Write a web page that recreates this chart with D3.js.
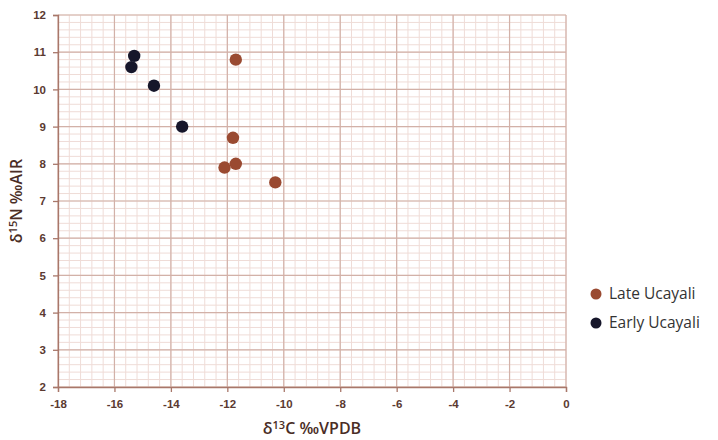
<!DOCTYPE html>
<html>
<head>
<meta charset="utf-8">
<script src="https://cdn.jsdelivr.net/npm/d3@7"></script>
<style>
  body { margin: 0; background: #fff; }
  svg { font-family: "Open Sans", "Liberation Sans", sans-serif; }
</style>
</head>
<body>
<svg id="chart" width="718" height="440"></svg>
<script>
(function () {

    // data
    const lateX = [-11.7, -11.8, -11.7, -12.1, -10.3];
    const lateY = [10.8, 8.7, 8.0, 7.9, 7.5];
    const earlyX = [-15.3, -15.4, -14.6, -13.6];
    const earlyY = [10.9, 10.6, 10.1, 9.0];
    const seriesNames = ["Late Ucayali", "Early Ucayali"];
    const seriesColors = ["#9a4a31", "#16162a"];
    const xTicks = [-18, -16, -14, -12, -10, -8, -6, -4, -2, 0];
    const yTicks = [2, 3, 4, 5, 6, 7, 8, 9, 10, 11, 12];

    const svg = d3.select('#chart');

    const x = d3.scaleLinear().domain([-18, 0]).range([58, 566]);
    const y = d3.scaleLinear().domain([2, 12]).range([387, 15]);

    const grid = svg.append('g');

    // minor grid
    grid.selectAll('line.mx')
        .data(d3.range(-18, 0.001, 0.4))
        .enter().append('line')
        .attr('x1', d => x(d)).attr('x2', d => x(d))
        .attr('y1', y(2)).attr('y2', y(12))
        .attr('stroke', '#efdcd7').attr('stroke-width', 1);
    grid.selectAll('line.my')
        .data(d3.range(2, 12.001, 0.2))
        .enter().append('line')
        .attr('x1', x(-18)).attr('x2', x(0))
        .attr('y1', d => y(d)).attr('y2', d => y(d))
        .attr('stroke', '#efdcd7').attr('stroke-width', 1);

    // major grid
    grid.selectAll('line.Mx')
        .data(xTicks)
        .enter().append('line')
        .attr('x1', d => x(d)).attr('x2', d => x(d))
        .attr('y1', y(2)).attr('y2', y(12))
        .attr('stroke', '#d2b1a8').attr('stroke-width', 1.2);
    grid.selectAll('line.My')
        .data(yTicks)
        .enter().append('line')
        .attr('x1', x(-18)).attr('x2', x(0))
        .attr('y1', d => y(d)).attr('y2', d => y(d))
        .attr('stroke', '#d2b1a8').attr('stroke-width', 1.2);

    const xAxis = svg.append('g')
        .attr('transform', `translate(0,${y(2)})`)
        .call(d3.axisBottom(x).tickValues(xTicks).tickSize(5).tickPadding(8)
            .tickFormat(d => String(d)));
    const yAxis = svg.append('g')
        .attr('transform', `translate(${x(-18)},0)`)
        .call(d3.axisLeft(y).tickValues(yTicks).tickSize(5).tickPadding(7));

    [xAxis, yAxis].forEach(a => {
        a.selectAll('path, line').attr('stroke', '#a8776a').attr('stroke-width', 1.3);
        a.selectAll('text')
            .attr('fill', '#5b3a31')
            .style('font-size', '11.5px')
            .style('font-weight', 'bold');
    });

    const series = [
        { xs: lateX, ys: lateY },
        { xs: earlyX, ys: earlyY }
    ];

    series.forEach((s, i) => {
        svg.append('g').selectAll('circle')
            .data(s.xs.map((v, j) => [v, s.ys[j]]))
            .enter().append('circle')
            .attr('cx', d => x(d[0]))
            .attr('cy', d => y(d[1]))
            .attr('r', 6.2)
            .attr('fill', seriesColors[i]);
    });

    // legend
    const legend = svg.append('g').attr('transform', 'translate(596,294)');
    seriesNames.forEach((name, i) => {
        legend.append('circle')
            .attr('cx', 0).attr('cy', i * 29)
            .attr('r', 5.5)
            .attr('fill', seriesColors[i]);
        legend.append('text')
            .attr('x', 13).attr('y', i * 29 + 5)
            .attr('fill', '#333')
            .style('font-size', '15.5px')
            .text(name);
    });

    // axis titles
    const xt = svg.append('text')
        .attr('x', 312).attr('y', 434)
        .attr('text-anchor', 'middle')
        .attr('fill', '#4a2d25')
        .style('font-size', '16px')
        .style('font-weight', '600');
    xt.append('tspan').text('δ');
    xt.append('tspan').attr('dy', -5).style('font-size', '11px').text('13');
    xt.append('tspan').attr('dy', 5).text('C ‰VPDB');

    const yt = svg.append('text')
        .attr('transform', 'translate(22,201) rotate(-90)')
        .attr('text-anchor', 'middle')
        .attr('fill', '#4a2d25')
        .style('font-size', '16px')
        .style('font-weight', '600');
    yt.append('tspan').text('δ');
    yt.append('tspan').attr('dy', -5).style('font-size', '11px').text('15');
    yt.append('tspan').attr('dy', 5).text('N ‰AIR');

})();
</script>
</body>
</html>
